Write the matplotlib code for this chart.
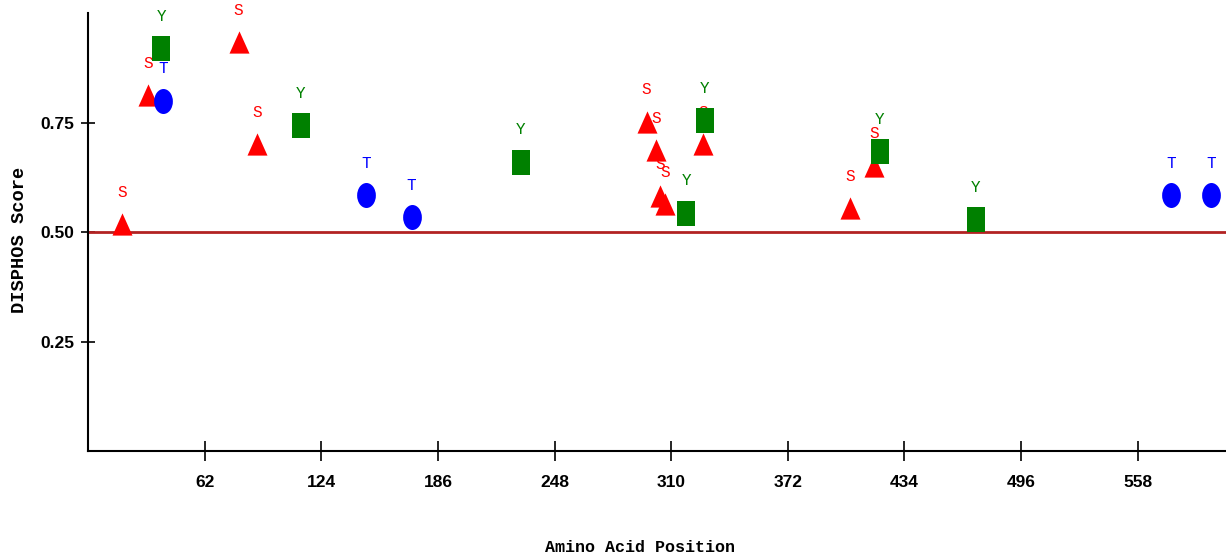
import matplotlib
matplotlib.use("Agg")
import matplotlib.pyplot as plt
from matplotlib.path import Path
import numpy as np

# ---- data ----
s_pos = [18, 32, 80, 90, 297, 302, 304, 307, 327, 405, 418]
s_score = [0.518, 0.812, 0.933, 0.701, 0.752, 0.687, 0.582, 0.563, 0.701, 0.554, 0.651]
t_pos = [40, 148, 172, 576, 597]
t_score = [0.800, 0.584, 0.534, 0.584, 0.584]
y_pos = [39, 113, 230, 318, 328, 421, 472]
y_score = [0.920, 0.744, 0.660, 0.544, 0.755, 0.684, 0.529]

xticks = [62, 124, 186, 248, 310, 372, 434, 496, 558]
yticks = [0.25, 0.50, 0.75]
ytick_labels = ["0.25", "0.50", "0.75"]
threshold = 0.5
x_max = 605

# ---- marker shapes ----
tri = Path([(0, 1), (-0.9, -1), (0.9, -1), (0, 1)], [1, 2, 2, 79])
rect = Path([(-0.75, -1), (0.75, -1), (0.75, 1), (-0.75, 1), (-0.75, -1)], [1, 2, 2, 2, 79])
circ = Path.unit_circle()
verts = circ.vertices.copy()
verts[:, 0] *= 0.75
ell = Path(verts, circ.codes)

fig = plt.figure(figsize=(12.26, 5.59), dpi=100)
ax = fig.add_axes([0.0718, 0.1932, 1 - 0.0718, 0.9767 - 0.1932])
ax.set_xlim(0, x_max)
ax.set_ylim(0, 1)

ax.axhline(threshold, color="#b22222", lw=2, zorder=2)

label_font = dict(family=["Liberation Mono", "DejaVu Sans Mono"], fontsize=11.5)

def draw(pos, score, marker, ms, color, letter, z):
    ax.plot(pos, score, linestyle="none", marker=marker, markersize=ms,
            color=color, markeredgewidth=0, zorder=z)
    for p, s in zip(pos, score):
        ax.annotate(letter, (p, s), xytext=(0, 23), textcoords="offset points",
                    ha="center", va="center", color=color, zorder=z, **label_font)

draw(s_pos, s_score, tri, 16, "#ff0000", "S", 3)
draw(t_pos, t_score, ell, 18, "#0000ff", "T", 4)
draw(y_pos, y_score, rect, 18, "#008000", "Y", 5)

for sp in ["top", "right"]:
    ax.spines[sp].set_visible(False)
for sp in ["left", "bottom"]:
    ax.spines[sp].set_linewidth(1.5)

tick_font = dict(family=["Liberation Sans", "DejaVu Sans"], fontweight="bold", fontsize=12.5)
ax.set_xticks(xticks)
ax.set_xticklabels([str(v) for v in xticks], **tick_font)
ax.set_yticks(yticks)
ax.set_yticklabels(ytick_labels, **tick_font)
ax.tick_params(axis="x", direction="inout", length=14, width=1.2, pad=10)
ax.tick_params(axis="y", direction="inout", length=10, width=1.2, pad=5)

axis_font = dict(family=["Liberation Mono", "DejaVu Sans Mono"], fontweight="bold")
fig.text(640 / 1226, 1 - 548 / 559, "Amino Acid Position", ha="center", va="center",
         fontsize=12, **axis_font)
fig.text(20 / 1226, 1 - 240 / 559, "DISPHOS Score", ha="center", va="center",
         rotation=90, fontsize=13.5, **axis_font)

fig.savefig("out.png", dpi=100)
